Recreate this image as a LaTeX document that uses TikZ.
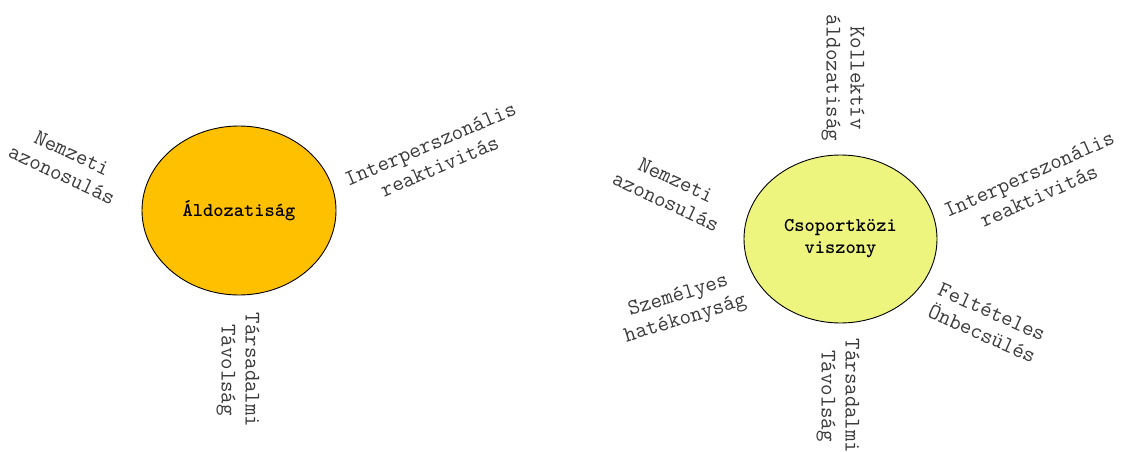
\documentclass[tikz,border=0pt]{standalone}
\usepackage{fontspec}
\usetikzlibrary{shapes.geometric}
\definecolor{orangefill}{HTML}{FFC000}
\definecolor{limefill}{HTML}{EEF57E}
\definecolor{labelgray}{HTML}{3A3A3A}
\tikzset{
  hub/.style={ellipse, draw=black, line width=0.9pt, inner sep=0pt,
    font=\ttfamily\bfseries\fontsize{19.5}{22}\selectfont, align=center, text=black},
  factor/.style={inner sep=0pt, align=center, text=labelgray,
    font=\ttfamily\fontsize{22.3}{24}\selectfont}
}
\begin{document}
\begin{tikzpicture}[x=1pt,y=1pt]
\useasboundingbox (0,0) rectangle (1127,451);
% left diagram
\node[hub, fill=orangefill, minimum width=194pt, minimum height=169pt] (aldoz) at (239,240.5) {Áldozatiság};
\node[factor, rotate=-25] (lnemz) at (67,287) {Nemzeti\\azonosulás};
\node[factor, rotate=23] (linter) at (435,296) {Interperszonális\\reaktivitás};
\node[factor, rotate=-90] (ltars) at (238,81) {Társadalmi\\Távolság};
% right diagram
\node[hub, fill=limefill, minimum width=193pt, minimum height=168pt] (csop) at (840.5,212) {Csoportközi\\viszony};
\node[factor, rotate=-90] (rkoll) at (843,373) {Kollektív\\áldozatiság};
\node[factor, rotate=-25] (rnemz) at (671,260) {Nemzeti\\azonosulás};
\node[factor, rotate=24] (rinter) at (1034,266) {Interperszonális\\reaktivitás};
\node[factor, rotate=17] (rszem) at (682,143) {Személyes\\hatékonyság};
\node[factor, rotate=-24] (rfelt) at (987,128) {Feltételes\\Önbecsülés};
\node[factor, rotate=-90] (rtars) at (838,55) {Társadalmi\\Távolság};
\end{tikzpicture}
\end{document}
